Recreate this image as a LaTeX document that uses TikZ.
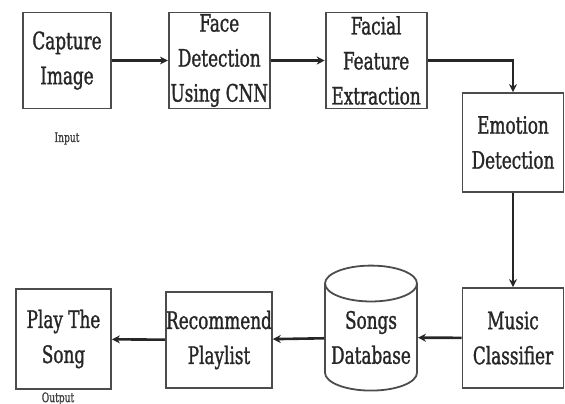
\documentclass[tikz,border=0pt]{standalone}
\usepackage{fontspec}
\setmainfont[FakeStretch=0.78,FakeBold=1.2]{DejaVu Serif Condensed}
\usetikzlibrary{positioning,shapes.geometric,arrows.meta}

\begin{document}
\begin{tikzpicture}[x=0.5pt, y=-0.5pt, node distance=28pt,
    block/.style={draw=black!70, line width=0.9pt, align=center, text=black!85,
      minimum width=50.5pt, minimum height=48pt, inner sep=0pt,
      font=\fontsize{12}{17.5}\selectfont},
    link/.style={draw=black!85, line width=1.3pt, -{Stealth[length=4pt,width=4pt]}},
    note/.style={text=black!75, font=\fontsize{6.5}{7}\selectfont}]
    \useasboundingbox (0,0) rectangle (565,403);

    % top row
    \node [block, minimum width=44pt] (cap) at (67,60.5) {Capture\\Image};
    \node [block, right=28pt of cap] (face) {Face\\Detection\\Using CNN};
    \node [block, right=27pt of face] (feat) {Facial\\Feature\\Extraction};
    \node [block, minimum height=49.5pt] (emo) at (513,142.5) {Emotion\\Detection};
    \node [note, below=8pt of cap] (in) {Input};

    % bottom row
    \node [block, minimum height=50pt] (mus) at (513,338) {Music\\Classifier};
    \node [draw=black!70, line width=0.9pt, cylinder, shape border rotate=90, aspect=0.45,
      minimum width=46pt, minimum height=62.5pt, inner sep=0pt, align=center, text=black!85,
      font=\fontsize{12}{17.5}\selectfont] (db) at (371,337.5) {Songs\\Database};
    \node [block, minimum width=51pt] (rec) at (219,340) {Recommend\\Playlist};
    \node [block, minimum width=47.5pt, minimum height=50pt] (play) at (63.5,339) {Play The\\Song};
    \node [note, anchor=north, inner sep=0pt] (out) at (58,392) {Output};

    \draw [link] (cap) -- (face);
    \draw [link] (face) -- (feat);
    \draw [link] (feat) -| (emo);
    \draw [link] (emo) -- (mus);
    \draw [link] (mus) -- (db);
    \draw [link] (db) -- (rec);
    \draw [link] (rec) -- (play);
\end{tikzpicture}
\end{document}
